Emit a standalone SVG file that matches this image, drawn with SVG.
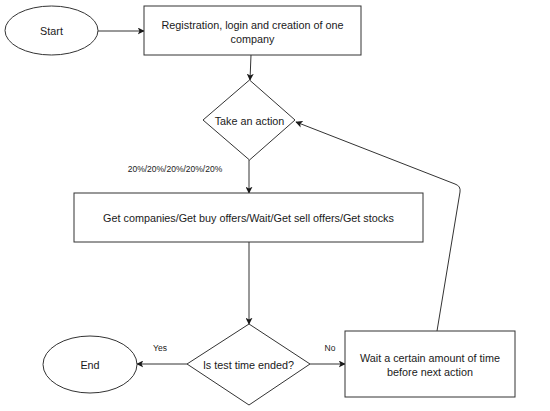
<svg xmlns="http://www.w3.org/2000/svg" width="550" height="411" viewBox="0 0 550 411">
<style>
.shape{fill:#ffffff;stroke:#333333;stroke-width:1}
.edge{fill:none;stroke:#333333;stroke-width:1}
text{font-family:"Liberation Sans",Arial,sans-serif;fill:#1a1a1a;text-anchor:middle;dominant-baseline:central}
.t{font-size:10.8px}
.s{font-size:8.5px}
</style>
<defs>
<marker id="arr" viewBox="0 0 10 10" refX="9" refY="5" markerWidth="7" markerHeight="7" markerUnits="userSpaceOnUse" orient="auto">
<path d="M0,0 L10,5 L0,10 L2.5,5 Z" fill="#1a1a1a"/>
</marker>
</defs>
<rect width="550" height="411" fill="#ffffff"/>
<g id="connectors">
<path class="edge" d="M98,31 L144,31" marker-end="url(#arr)"/>
<path class="edge" d="M251,55 L250,80" marker-end="url(#arr)"/>
<path class="edge" d="M249,160 L249,193" marker-end="url(#arr)"/>
<path class="edge" d="M249,242 L249,324" marker-end="url(#arr)"/>
<path class="edge" d="M187,364 L137,364" marker-end="url(#arr)"/>
<path class="edge" d="M310,364 L345,364" marker-end="url(#arr)"/>
<path class="edge" d="M437,331 L460,192 Q461,186 455,184 L296,122" marker-end="url(#arr)"/>
<text class="s" x="175" y="169">20%/20%/20%/20%/20%</text>
<text class="s" x="160" y="348">Yes</text>
<text class="s" x="330" y="348">No</text>
</g>
<g id="start">
<ellipse class="shape" cx="51.5" cy="30.5" rx="46.5" ry="24.5"/>
<text class="t" x="51.5" y="31">Start</text>
</g>
<g id="registration">
<rect class="shape" x="144" y="6" width="217" height="49"/>
<text class="t" x="252.5" y="25">Registration, login and creation of one</text>
<text class="t" x="252.5" y="38.5">company</text>
</g>
<g id="take-action">
<polygon class="shape" points="249.5,80 295,120 249.5,160 203,120"/>
<text class="t" x="249.5" y="120.5">Take an action</text>
</g>
<g id="get-actions">
<rect class="shape" x="74" y="193" width="349" height="49"/>
<text class="t" x="248.5" y="218">Get companies/Get buy offers/Wait/Get sell offers/Get stocks</text>
</g>
<g id="test-ended">
<polygon class="shape" points="249,324 310,364 249,405 187,364"/>
<text class="t" x="248.5" y="365">Is test time ended?</text>
</g>
<g id="end">
<ellipse class="shape" cx="90" cy="364.5" rx="47" ry="28.5"/>
<text class="t" x="90" y="365">End</text>
</g>
<g id="wait">
<rect class="shape" x="345" y="331" width="170" height="66"/>
<text class="t" x="430" y="358">Wait a certain amount of time</text>
<text class="t" x="430" y="372">before next action</text>
</g>
</svg>
